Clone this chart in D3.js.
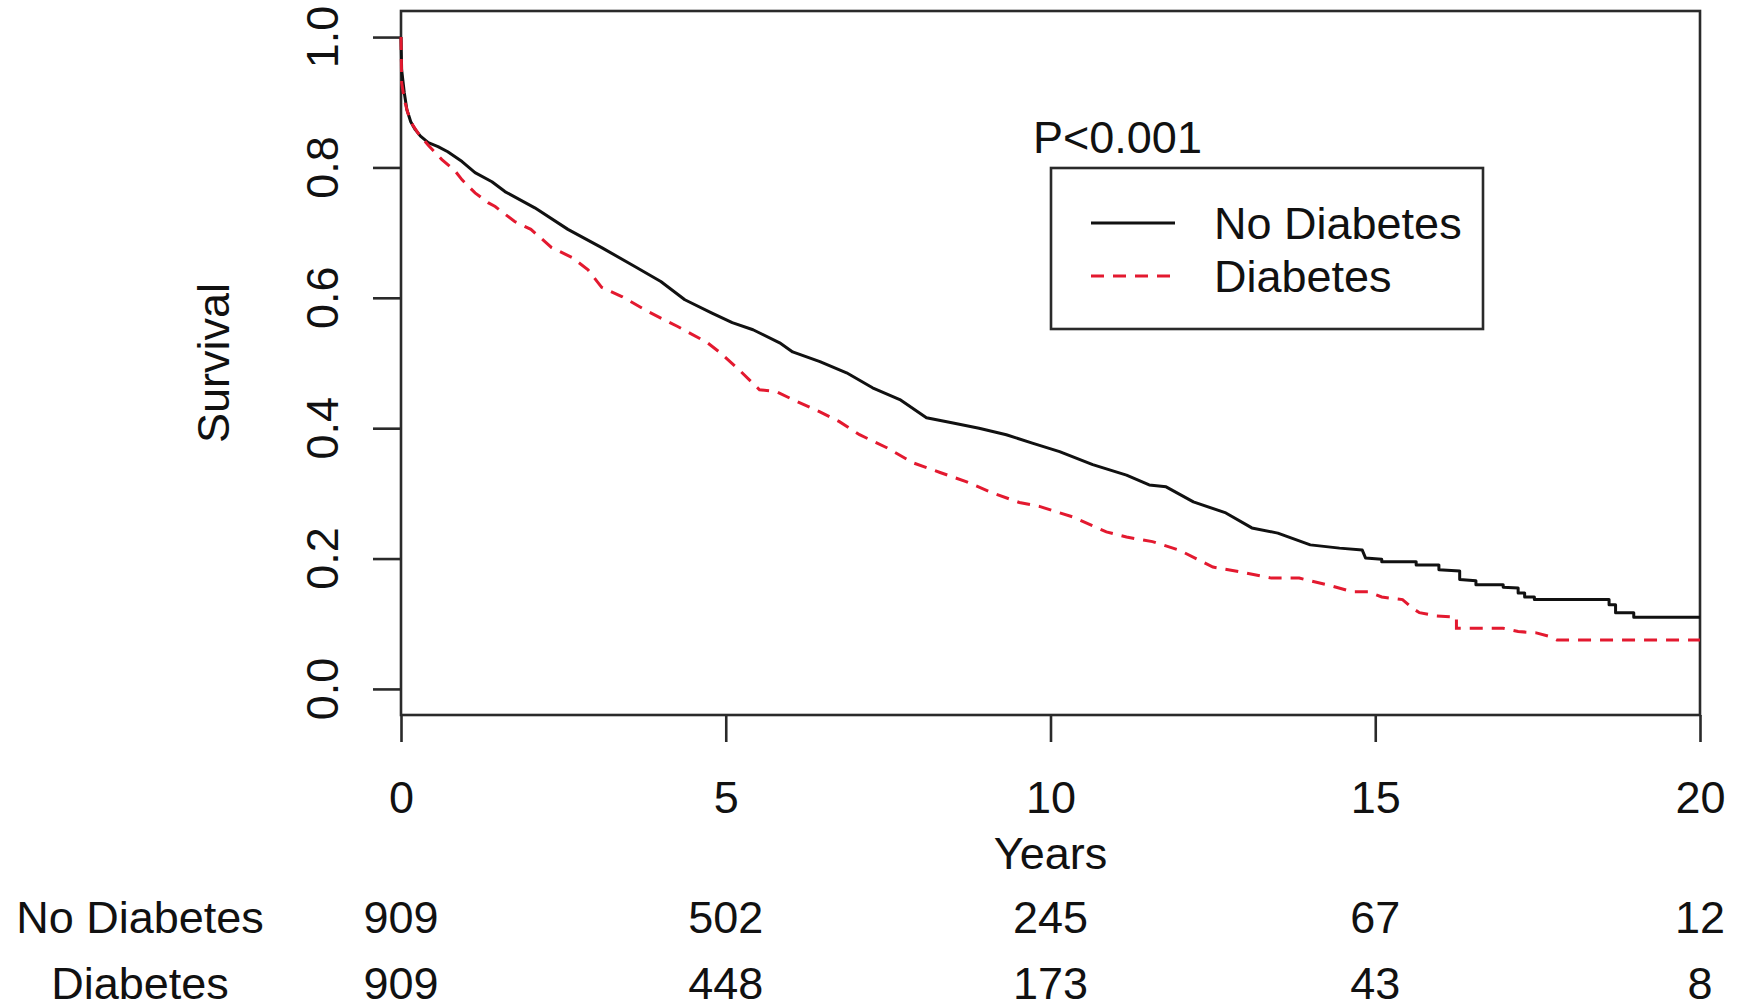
<!DOCTYPE html>
<html>
<head>
<meta charset="utf-8">
<script src="https://cdn.jsdelivr.net/npm/d3@7"></script>
<style>
  html, body { margin: 0; padding: 0; background: #ffffff; }
  svg text { font-family: "Liberation Sans", Arial, Helvetica, sans-serif; fill: #111; }
</style>
</head>
<body>
<svg id="chart" width="1741" height="1008"></svg>
<script>
// ---------- data ----------
const seriesNames = ["No Diabetes", "Diabetes"];

const timesNoDiab = [0, 0.01, 0.05, 0.09, 0.15, 0.22, 0.3, 0.42, 0.57, 0.72, 0.94, 1.14, 1.4, 1.6, 2.06, 2.57, 3.09, 3.6, 4.0, 4.37, 4.78, 5.1, 5.42, 5.83, 6.03, 6.45, 6.86, 7.26, 7.68, 8.09, 8.5, 8.9, 9.32, 9.72, 10.14, 10.65, 11.17, 11.52, 11.78, 12.2, 12.7, 13.1, 13.5, 14.0, 14.45, 14.8, 14.85, 15.1, 15.1, 15.63, 15.63, 15.98, 15.98, 16.3, 16.3, 16.55, 16.55, 16.97, 16.97, 17.2, 17.2, 17.3, 17.3, 17.45, 17.45, 18.6, 18.6, 18.7, 18.7, 18.98, 18.98, 20];
const survNoDiab  = [1.0, 0.95, 0.915, 0.889, 0.87, 0.858, 0.848, 0.838, 0.832, 0.824, 0.809, 0.792, 0.778, 0.763, 0.738, 0.705, 0.677, 0.648, 0.625, 0.597, 0.577, 0.562, 0.551, 0.531, 0.517, 0.502, 0.485, 0.462, 0.444, 0.416, 0.408, 0.40, 0.39, 0.377, 0.364, 0.344, 0.328, 0.313, 0.31, 0.287, 0.27, 0.247, 0.239, 0.221, 0.216, 0.213, 0.201, 0.199, 0.195, 0.195, 0.19, 0.19, 0.183, 0.181, 0.168, 0.166, 0.16, 0.16, 0.156, 0.155, 0.147, 0.147, 0.141, 0.141, 0.137, 0.137, 0.129, 0.129, 0.117, 0.117, 0.11, 0.11];

const timesDiab = [0, 0.01, 0.05, 0.1, 0.18, 0.26, 0.42, 0.63, 0.83, 0.94, 1.14, 1.34, 1.45, 1.75, 2.0, 2.32, 2.63, 2.88, 3.09, 3.4, 3.8, 4.26, 4.72, 4.9, 5.2, 5.52, 5.78, 6.03, 6.45, 6.75, 7.06, 7.48, 7.88, 8.3, 8.7, 9.1, 9.52, 9.83, 10.34, 10.86, 11.17, 11.57, 11.98, 12.5, 12.9, 13.4, 13.83, 14.25, 14.65, 14.9, 15.1, 15.42, 15.57, 15.68, 15.94, 16.25, 16.25, 16.97, 17.2, 17.48, 17.7, 17.8, 20];
const survDiab  = [1.0, 0.93, 0.905, 0.885, 0.865, 0.853, 0.834, 0.812, 0.795, 0.781, 0.761, 0.746, 0.74, 0.717, 0.705, 0.677, 0.662, 0.643, 0.616, 0.602, 0.579, 0.556, 0.531, 0.517, 0.49, 0.459, 0.456, 0.444, 0.425, 0.41, 0.39, 0.37, 0.347, 0.332, 0.318, 0.301, 0.286, 0.28, 0.264, 0.241, 0.233, 0.226, 0.213, 0.187, 0.18, 0.17, 0.17, 0.16, 0.149, 0.149, 0.141, 0.137, 0.124, 0.117, 0.112, 0.11, 0.093, 0.093, 0.088, 0.086, 0.08, 0.075, 0.075];

const xTicks = [0, 5, 10, 15, 20];
const yTicks = [0, 0.2, 0.4, 0.6, 0.8, 1.0];
const riskNoDiab = [909, 502, 245, 67, 12];
const riskDiab   = [909, 448, 173, 43, 8];
const pValueText = "P<0.001";
const xLabel = "Years";
const yLabel = "Survival";

// ---------- layout ----------
const FS = 45;
const svg = d3.select("#chart");
const box = { left: 401, right: 1700, top: 11, bottom: 715 };

const x = d3.scaleLinear().domain([0, 20]).range([box.left, box.right]);
const y = d3.scaleLinear().domain([-0.04, 1.04]).range([box.bottom, box.top]);

// plot box
svg.append("rect")
  .attr("x", box.left).attr("y", box.top)
  .attr("width", box.right - box.left).attr("height", box.bottom - box.top)
  .attr("fill", "none").attr("stroke", "#2a2a2a").attr("stroke-width", 2.6);

// x axis
const xAxis = svg.append("g")
  .attr("transform", `translate(0,${box.bottom})`)
  .call(d3.axisBottom(x).tickValues(xTicks).tickSize(27).tickPadding(39).tickFormat(d3.format("d")));
xAxis.select(".domain").remove();
xAxis.selectAll(".tick line").attr("stroke", "#2a2a2a").attr("stroke-width", 2.6);
xAxis.selectAll(".tick text")
  .attr("font-size", FS).attr("fill", "#111")
  .style("font-family", "'Liberation Sans', Arial, sans-serif");

// y axis
const yAxis = svg.append("g")
  .attr("transform", `translate(${box.left},0)`)
  .call(d3.axisLeft(y).tickValues(yTicks).tickSize(28).tickFormat(""));
yAxis.select(".domain").remove();
yAxis.selectAll(".tick line").attr("stroke", "#2a2a2a").attr("stroke-width", 2.6);

svg.append("g").selectAll("text")
  .data(yTicks)
  .join("text")
  .attr("transform", d => `translate(322,${y(d)}) rotate(-90)`)
  .attr("text-anchor", "middle")
  .attr("dominant-baseline", "central")
  .attr("font-size", FS)
  .text(d => d3.format(".1f")(d));

// axis titles
svg.append("text")
  .attr("x", x(10)).attr("y", 869)
  .attr("text-anchor", "middle").attr("font-size", FS)
  .text(xLabel);

svg.append("text")
  .attr("transform", `translate(213,${y(0.5)}) rotate(-90)`)
  .attr("text-anchor", "middle").attr("dominant-baseline", "central")
  .attr("font-size", FS)
  .text(yLabel);

// curves
const line = d3.line()
  .x(d => x(d[0]))
  .y(d => y(d[1]))
  .curve(d3.curveLinear);

const dataNoDiab = timesNoDiab.map((t, i) => [t, survNoDiab[i]]);
const dataDiab = timesDiab.map((t, i) => [t, survDiab[i]]);

svg.append("path")
  .datum(dataNoDiab)
  .attr("d", line)
  .attr("fill", "none").attr("stroke", "#111").attr("stroke-width", 3)
  .attr("stroke-linejoin", "round");

svg.append("path")
  .datum(dataDiab)
  .attr("d", line)
  .attr("fill", "none").attr("stroke", "#e3192f").attr("stroke-width", 3)
  .attr("stroke-dasharray", "13,9");

// p-value
svg.append("text")
  .attr("x", 1033).attr("y", 153)
  .attr("font-size", FS)
  .text(pValueText);

// legend
const legend = svg.append("g");
legend.append("rect")
  .attr("x", 1051).attr("y", 168).attr("width", 432).attr("height", 161)
  .attr("fill", "#fff").attr("stroke", "#2a2a2a").attr("stroke-width", 2.6);
const legendItems = [
  { name: seriesNames[0], color: "#111", dash: null, y: 223 },
  { name: seriesNames[1], color: "#e3192f", dash: "13,9", y: 276 }
];
legendItems.forEach(it => {
  legend.append("line")
    .attr("x1", 1091).attr("x2", 1175).attr("y1", it.y).attr("y2", it.y)
    .attr("stroke", it.color).attr("stroke-width", 3)
    .attr("stroke-dasharray", it.dash);
  legend.append("text")
    .attr("x", 1214).attr("y", it.y).attr("dominant-baseline", "central")
    .attr("font-size", FS)
    .text(it.name);
});

// risk table
const rows = [
  { name: seriesNames[0], values: riskNoDiab, y: 933 },
  { name: seriesNames[1], values: riskDiab, y: 999 }
];
rows.forEach(r => {
  svg.append("text")
    .attr("x", 140).attr("y", r.y)
    .attr("text-anchor", "middle").attr("font-size", FS)
    .text(r.name);
  svg.append("g").selectAll("text")
    .data(r.values)
    .join("text")
    .attr("x", (d, i) => x(xTicks[i]))
    .attr("y", r.y)
    .attr("text-anchor", "middle").attr("font-size", FS)
    .text(d => d);
});
</script>
</body>
</html>
